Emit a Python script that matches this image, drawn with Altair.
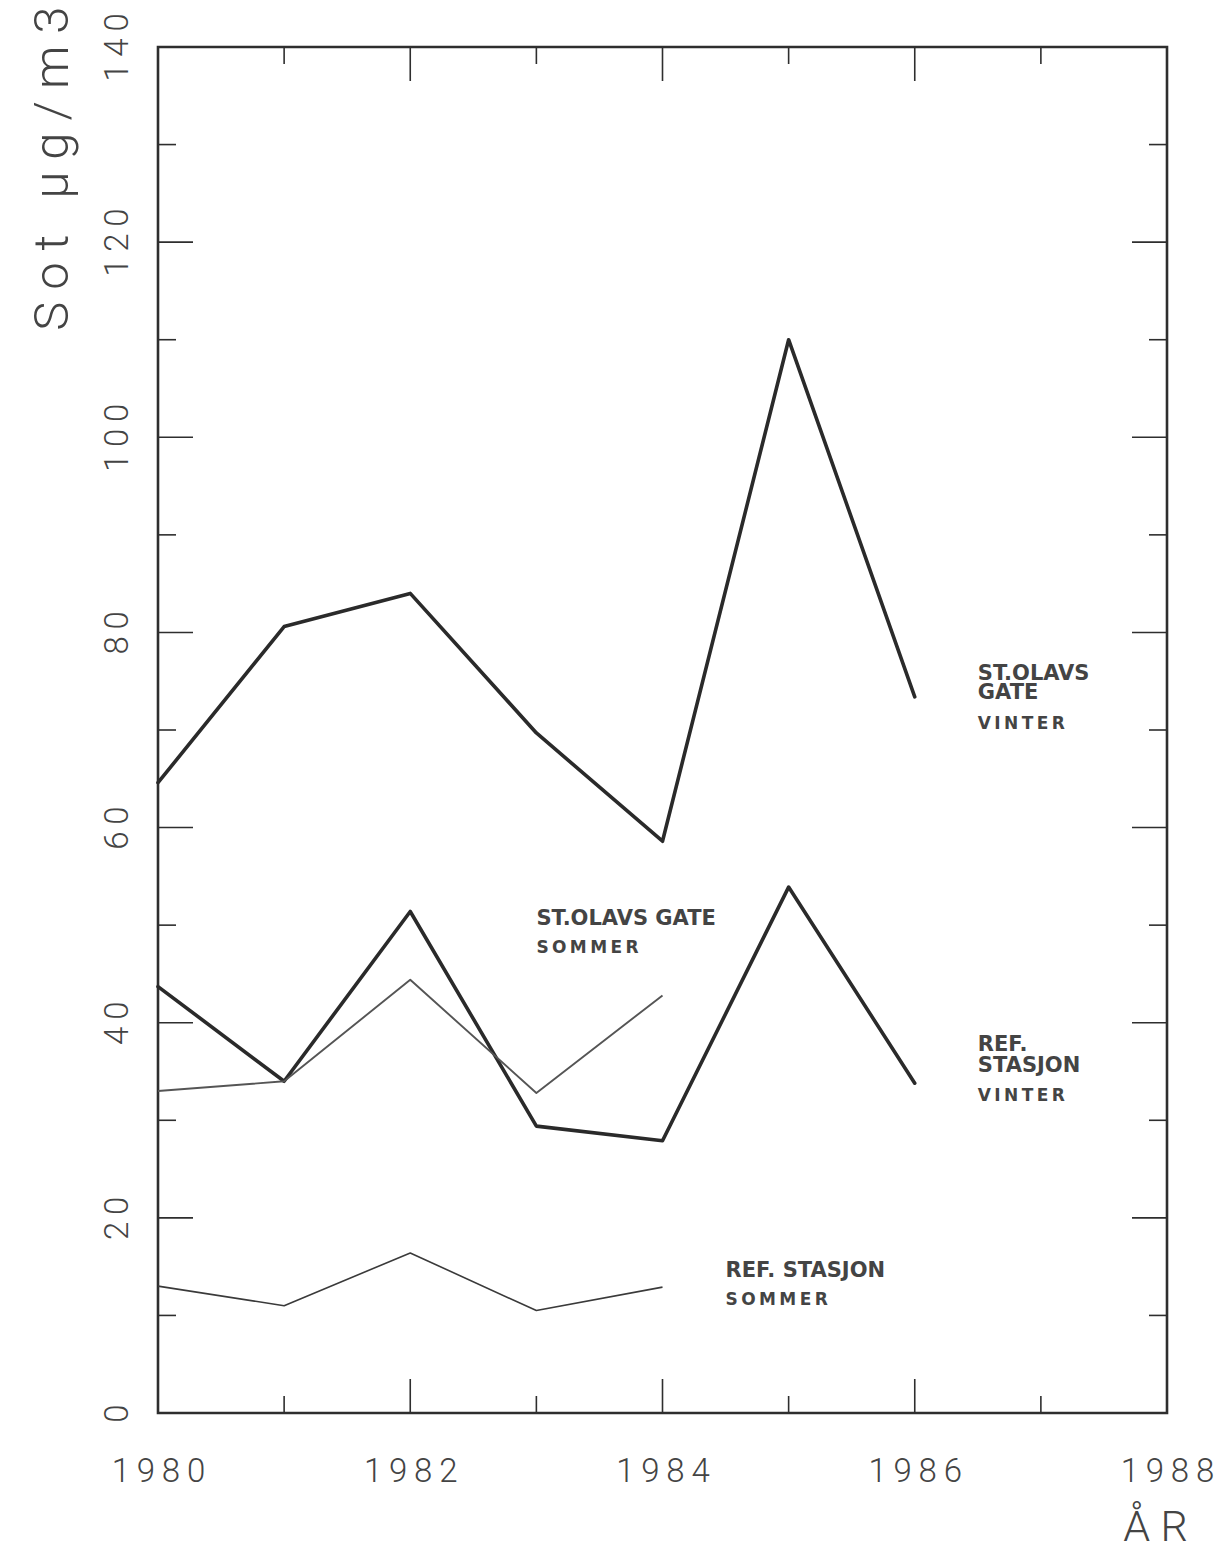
import altair as alt
import pandas as pd

# ---- data ----
YEARS_WINTER = [1980, 1981, 1982, 1983, 1984, 1985, 1986]
YEARS_SUMMER = [1980, 1981, 1982, 1983, 1984]
OLAVS_WINTER = [64.6, 80.6, 84.0, 69.7, 58.6, 110.0, 73.4]
REF_WINTER = [43.7, 34.0, 51.4, 29.4, 27.9, 53.9, 33.8]
OLAVS_SUMMER = [33.0, 34.0, 44.4, 32.8, 42.8]
REF_SUMMER = [13.0, 11.0, 16.4, 10.5, 12.9]

X_LABELS = [1980, 1982, 1984, 1986, 1988]
Y_LABELS = [0, 20, 40, 60, 80, 100, 120, 140]
X_TICKS_MAJOR = [1982, 1984, 1986]
X_TICKS_MINOR = [1981, 1983, 1985, 1987]
Y_TICKS_MAJOR = [20, 40, 60, 80, 100, 120]
Y_TICKS_MINOR = [10, 30, 50, 70, 90, 110, 130]

ANN_BIG_TEXT = ["ST.OLAVS", "GATE", "ST.OLAVS GATE", "REF.", "STASJON", "REF. STASJON"]
ANN_BIG_X = [1986.5, 1986.5, 1983.0, 1986.5, 1986.5, 1984.5]
ANN_BIG_Y = [75.7, 73.8, 50.6, 37.7, 35.6, 14.55]
ANN_SMALL_TEXT = ["VINTER", "SOMMER", "VINTER", "SOMMER"]
ANN_SMALL_X = [1986.5, 1983.0, 1986.5, 1984.5]
ANN_SMALL_Y = [70.6, 47.7, 32.5, 11.6]

W, H = 1009, 1366
INK = "#2e2e2e"
LABEL_INK = "#444444"
THIN = "\u2009"
NBSP = "\u00a0"

winter = pd.DataFrame({
    "year": YEARS_WINTER * 2,
    "value": OLAVS_WINTER + REF_WINTER,
    "series": ["St.Olavs gate vinter"] * 7 + ["Ref. stasjon vinter"] * 7,
})
summer_olavs = pd.DataFrame({"year": YEARS_SUMMER, "value": OLAVS_SUMMER})
summer_ref = pd.DataFrame({"year": YEARS_SUMMER, "value": REF_SUMMER})

xscale = alt.Scale(domain=[1980, 1988], nice=False, zero=False)
yscale = alt.Scale(domain=[0, 140], nice=False, zero=False)

spaced_expr = "join(split(datum.label, ''), '" + THIN + "')"

x_axis = alt.Axis(
    values=X_LABELS, format="d",
    labelExpr=spaced_expr,
    labelFont="Roboto", labelFontWeight=300, labelFontSize=33, labelColor=LABEL_INK,
    labelPadding=42, labelBaseline="top", labelAlign="center",
    labelFlush=False, labelOverlap=False,
    domain=False, ticks=False, tickSize=0, grid=False,
    title="Å R", titleFont="Roboto", titleFontWeight=300, titleFontSize=43,
    titleColor=LABEL_INK, titleX=997, titleY=127, titleAlign="center",
    titleBaseline="alphabetic",
)
y_axis = alt.Axis(
    values=Y_LABELS,
    labelExpr=spaced_expr,
    labelFont="Roboto", labelFontWeight=300, labelFontSize=33, labelColor=LABEL_INK,
    labelAngle=270, labelAlign="center", labelBaseline="alphabetic",
    labelPadding=31, labelFlush=False, labelOverlap=False,
    domain=False, ticks=False, tickSize=0, grid=False,
    title="S o t" + NBSP * 3 + "µ g / m 3", titleFont="Roboto", titleFontWeight=300,
    titleFontSize=49, titleColor=LABEL_INK, titleAngle=270, titleX=-106, titleY=-41,
    titleAlign="right", titleBaseline="middle",
)


def X(field):
    return alt.X(field, scale=xscale, axis=x_axis)


def Y(field):
    return alt.Y(field, scale=yscale, axis=y_axis)


lines_thick = alt.Chart(winter).mark_line(
    color="#2a2a2a", strokeWidth=3.6, strokeJoin="round", strokeCap="round"
).encode(
    x=X("year:Q"),
    y=Y("value:Q"),
    detail="series:N",
)
line_olavs_summer = alt.Chart(summer_olavs).mark_line(
    color="#555555", strokeWidth=1.9, strokeJoin="round"
).encode(x=X("year:Q"), y=Y("value:Q"))
line_ref_summer = alt.Chart(summer_ref).mark_line(
    color="#3a3a3a", strokeWidth=1.6, strokeJoin="round"
).encode(x=X("year:Q"), y=Y("value:Q"))

# inward tick marks on all four sides
tick_layers = []
for vals, L in [(X_TICKS_MAJOR, 34), (X_TICKS_MINOR, 17)]:
    df = pd.DataFrame({"t": vals})
    for y0, y1 in [(H, H - L), (0, L)]:
        tick_layers.append(
            alt.Chart(df).mark_rule(color=INK, strokeWidth=1.6).encode(
                x=X("t:Q"),
                y=alt.value(y0), y2=alt.value(y1),
            )
        )
for vals, L in [(Y_TICKS_MAJOR, 35), (Y_TICKS_MINOR, 18)]:
    df = pd.DataFrame({"t": vals})
    for x0, x1 in [(0, L), (W, W - L)]:
        tick_layers.append(
            alt.Chart(df).mark_rule(color=INK, strokeWidth=1.6).encode(
                y=Y("t:Q"),
                x=alt.value(x0), x2=alt.value(x1),
            )
        )

ann_big = alt.Chart(pd.DataFrame({"text": ANN_BIG_TEXT, "x": ANN_BIG_X, "y": ANN_BIG_Y})).mark_text(
    align="left", baseline="middle", font="DejaVu Sans", fontSize=21, fontWeight="bold",
    color="#444444"
).encode(
    x=X("x:Q"),
    y=Y("y:Q"),
    text="text:N",
)
ann_small = alt.Chart(pd.DataFrame({"text": ANN_SMALL_TEXT, "x": ANN_SMALL_X, "y": ANN_SMALL_Y})).transform_calculate(
    label="join(split(datum.text, ''), '" + THIN + "')"
).mark_text(
    align="left", baseline="middle", font="DejaVu Sans", fontSize=17, fontWeight="bold",
    color="#444444"
).encode(
    x=X("x:Q"),
    y=Y("y:Q"),
    text="label:N",
)

chart = alt.layer(
    lines_thick, line_olavs_summer, line_ref_summer, *tick_layers, ann_big, ann_small
).properties(
    width=W, height=H,
    autosize=alt.AutoSizeParams(type="none"),
    padding={"left": 150, "top": 39, "right": 47, "bottom": 138},
    background="white",
).configure_view(
    stroke=INK, strokeWidth=2.6,
)

chart.save("out.html", embed_options={"renderer": "svg", "actions": False})
